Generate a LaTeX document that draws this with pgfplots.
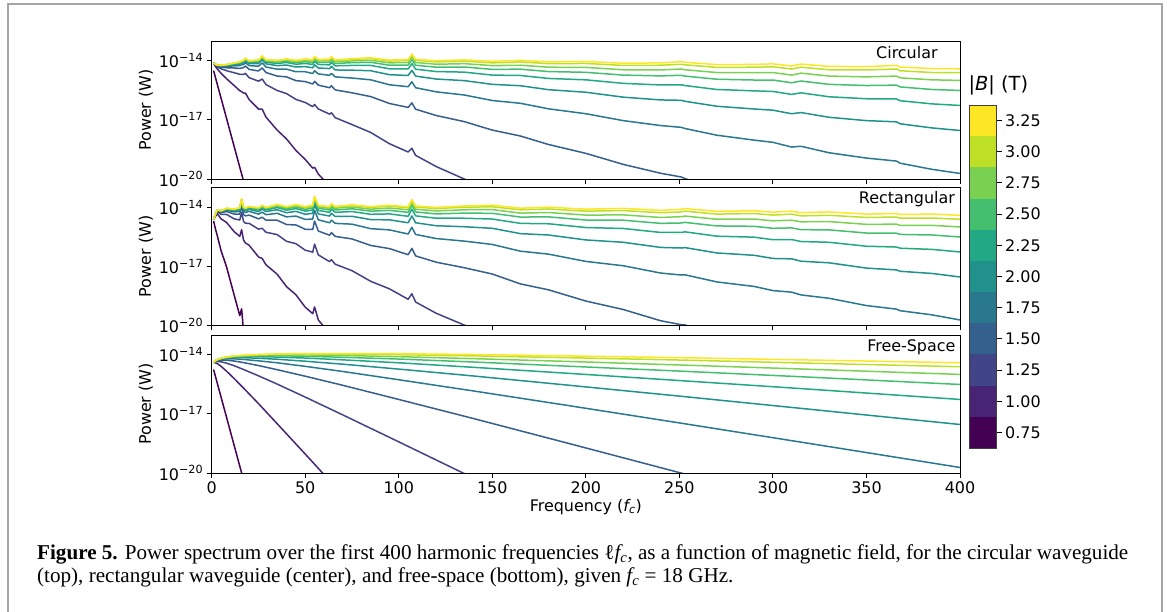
\documentclass[border=0pt]{standalone}
\usepackage{fontspec}
\setmainfont{DejaVu Sans}
\newfontfamily\capfont{Liberation Serif}
\usepackage{graphicx}
\usepackage{pgfplots}
\pgfplotsset{compat=1.18}
\usepackage{pgfplotstable}

% viridis, 11 levels (0.75 ... 3.25 T)
\definecolor{v0}{HTML}{440154}
\definecolor{v1}{HTML}{482475}
\definecolor{v2}{HTML}{414487}
\definecolor{v3}{HTML}{355F8D}
\definecolor{v4}{HTML}{2A788E}
\definecolor{v5}{HTML}{21918C}
\definecolor{v6}{HTML}{22A884}
\definecolor{v7}{HTML}{44BF70}
\definecolor{v8}{HTML}{7AD151}
\definecolor{v9}{HTML}{BDDF26}
\definecolor{v10}{HTML}{FDE725}

% log10 of power (W) per harmonic, one column per |B|
\pgfplotstableread{
x b075 b100 b125 b150 b175 b200 b225 b250 b275 b300 b325
1 -14.50 -14.12 -14.12 -14.12 -14.12 -14.12 -14.12 -14.12 -14.12 -14.12 -14.12
2 -14.85 -14.29 -14.23 -14.21 -14.20 -14.19 -14.19 -14.19 -14.18 -14.18 -14.18
3 -15.20 -14.42 -14.31 -14.26 -14.24 -14.23 -14.23 -14.22 -14.22 -14.22 -14.22
5 -15.90 -14.64 -14.41 -14.32 -14.28 -14.26 -14.24 -14.24 -14.23 -14.23 -14.23
8 -16.95 -14.92 -14.51 -14.36 -14.29 -14.25 -14.23 -14.21 -14.21 -14.20 -14.19
12 -18.35 -15.26 -14.61 -14.37 -14.26 -14.20 -14.17 -14.14 -14.13 -14.12 -14.11
15 -19.40 -15.52 -14.69 -14.39 -14.25 -14.17 -14.12 -14.10 -14.08 -14.07 -14.06
16 -19.75 -15.57 -14.69 -14.37 -14.21 -14.13 -14.08 -14.05 -14.04 -14.02 -14.01
17 -20.10 -15.64 -14.70 -14.35 -14.19 -14.10 -14.05 -14.02 -14.00 -13.98 -13.98
18 nan -15.64 -14.64 -14.27 -14.10 -14.00 -13.95 -13.92 -13.90 -13.88 -13.87
20 nan -15.97 -14.86 -14.44 -14.25 -14.15 -14.09 -14.05 -14.03 -14.01 -14.00
25 nan -16.45 -15.04 -14.52 -14.28 -14.15 -14.07 -14.02 -13.99 -13.97 -13.96
27 nan -16.46 -14.93 -14.37 -14.11 -13.96 -13.88 -13.83 -13.80 -13.77 -13.76
29 nan -16.86 -15.21 -14.60 -14.32 -14.16 -14.08 -14.02 -13.99 -13.96 -13.95
35 nan -17.52 -15.51 -14.78 -14.43 -14.25 -14.14 -14.07 -14.03 -14.00 -13.98
40 nan -17.97 -15.67 -14.82 -14.43 -14.22 -14.09 -14.02 -13.97 -13.93 -13.91
45 nan -18.55 -15.96 -15.01 -14.56 -14.32 -14.18 -14.10 -14.04 -14.00 -13.98
50 nan -19.01 -16.12 -15.06 -14.56 -14.30 -14.14 -14.05 -13.98 -13.94 -13.91
54 nan -19.45 -16.33 -15.18 -14.65 -14.36 -14.19 -14.09 -14.02 -13.97 -13.94
55 nan -19.41 -16.22 -15.05 -14.51 -14.21 -14.04 -13.94 -13.87 -13.82 -13.79
57 nan -19.75 -16.45 -15.24 -14.67 -14.37 -14.19 -14.08 -14.01 -13.96 -13.93
63 nan -20.36 -16.71 -15.37 -14.74 -14.40 -14.21 -14.09 -14.01 -13.95 -13.92
64 nan nan -16.64 -15.27 -14.64 -14.29 -14.09 -13.97 -13.89 -13.83 -13.80
66 nan nan -16.89 -15.48 -14.82 -14.47 -14.26 -14.14 -14.05 -13.99 -13.96
75 nan nan -17.24 -15.63 -14.88 -14.48 -14.24 -14.10 -14.01 -13.94 -13.90
85 nan nan -17.64 -15.82 -14.97 -14.51 -14.24 -14.08 -13.98 -13.89 -13.85
95 nan nan -18.21 -16.17 -15.22 -14.71 -14.41 -14.23 -14.11 -14.02 -13.97
105 nan nan -18.63 -16.37 -15.32 -14.75 -14.42 -14.22 -14.09 -13.99 -13.94
107 nan nan -18.44 -16.14 -15.07 -14.49 -14.15 -13.95 -13.81 -13.71 -13.66
109 nan nan -18.80 -16.46 -15.37 -14.78 -14.43 -14.23 -14.09 -13.98 -13.93
120 nan nan -19.37 -16.78 -15.58 -14.93 -14.55 -14.33 -14.18 -14.06 -14.00
135 nan nan -20.00 -17.09 -15.74 -15.01 -14.58 -14.32 -14.15 -14.02 -13.96
150 nan nan -20.78 -17.52 -16.02 -15.20 -14.73 -14.44 -14.25 -14.11 -14.03
165 nan nan nan -17.82 -16.16 -15.27 -14.75 -14.43 -14.23 -14.06 -13.98
180 nan nan nan -18.25 -16.44 -15.47 -14.90 -14.55 -14.33 -14.15 -14.06
200 nan nan nan -18.70 -16.69 -15.60 -14.97 -14.59 -14.34 -14.14 -14.04
220 nan nan nan -19.26 -17.04 -15.85 -15.15 -14.73 -14.46 -14.24 -14.13
240 nan nan nan -19.71 -17.29 -15.99 -15.23 -14.77 -14.47 -14.23 -14.11
251 nan nan nan -19.90 -17.38 -16.01 -15.22 -14.74 -14.42 -14.18 -14.05
253 nan nan nan -19.98 -17.44 -16.06 -15.26 -14.78 -14.46 -14.21 -14.08
270 nan nan nan -20.50 -17.78 -16.31 -15.46 -14.94 -14.60 -14.34 -14.20
290 nan nan nan nan -18.03 -16.45 -15.53 -14.98 -14.61 -14.33 -14.19
300 nan nan nan nan -18.14 -16.51 -15.56 -14.98 -14.60 -14.31 -14.16
310 nan nan nan nan -18.38 -16.69 -15.71 -15.12 -14.73 -14.42 -14.27
315 nan nan nan nan -18.34 -16.63 -15.63 -15.03 -14.63 -14.33 -14.17
330 nan nan nan nan -18.67 -16.87 -15.83 -15.20 -14.78 -14.46 -14.29
350 nan nan nan nan -18.94 -17.04 -15.93 -15.26 -14.82 -14.47 -14.30
366 nan nan nan nan -19.09 -17.10 -15.94 -15.24 -14.78 -14.42 -14.24
368 nan nan nan nan -19.20 -17.20 -16.03 -15.33 -14.87 -14.51 -14.32
385 nan nan nan nan -19.51 -17.41 -16.19 -15.46 -14.97 -14.60 -14.40
400 nan nan nan nan -19.72 -17.54 -16.27 -15.51 -15.00 -14.61 -14.41
}\circdata

\pgfplotstableread{
x b075 b100 b125 b150 b175 b200 b225 b250 b275 b300 b325
1 -14.70 -14.62 -14.62 -14.62 -14.62 -14.62 -14.62 -14.62 -14.62 -14.62 -14.62
2 -15.10 -14.46 -14.40 -14.38 -14.37 -14.36 -14.36 -14.36 -14.35 -14.35 -14.35
3 -15.45 -14.33 -14.22 -14.17 -14.15 -14.14 -14.14 -14.13 -14.13 -14.13 -14.13
5 -16.20 -14.59 -14.36 -14.27 -14.23 -14.21 -14.19 -14.19 -14.18 -14.18 -14.18
8 -17.05 -14.78 -14.37 -14.22 -14.15 -14.11 -14.09 -14.07 -14.07 -14.06 -14.05
12 -18.45 -15.24 -14.59 -14.35 -14.24 -14.18 -14.15 -14.12 -14.11 -14.10 -14.09
15 -19.50 -15.48 -14.65 -14.35 -14.21 -14.13 -14.08 -14.06 -14.04 -14.03 -14.02
16 -19.15 -15.14 -14.26 -13.94 -13.78 -13.70 -13.65 -13.62 -13.61 -13.59 -13.58
17 -20.30 -15.66 -14.72 -14.37 -14.21 -14.12 -14.07 -14.04 -14.02 -14.00 -14.00
18 nan -15.81 -14.81 -14.44 -14.27 -14.17 -14.12 -14.09 -14.07 -14.05 -14.04
20 nan -15.93 -14.82 -14.40 -14.21 -14.11 -14.05 -14.01 -13.99 -13.97 -13.96
25 nan -16.52 -15.11 -14.59 -14.35 -14.22 -14.14 -14.09 -14.06 -14.04 -14.03
27 nan -16.60 -15.07 -14.51 -14.25 -14.10 -14.02 -13.97 -13.94 -13.91 -13.90
29 nan -16.92 -15.27 -14.66 -14.38 -14.22 -14.14 -14.08 -14.05 -14.02 -14.01
35 nan -17.40 -15.39 -14.66 -14.31 -14.13 -14.02 -13.95 -13.91 -13.88 -13.86
40 nan -18.03 -15.73 -14.88 -14.49 -14.28 -14.15 -14.08 -14.03 -13.99 -13.97
45 nan -18.44 -15.85 -14.90 -14.45 -14.21 -14.07 -13.99 -13.93 -13.89 -13.87
50 nan -19.07 -16.18 -15.12 -14.62 -14.36 -14.20 -14.11 -14.04 -14.00 -13.97
54 nan -19.40 -16.28 -15.13 -14.60 -14.31 -14.14 -14.04 -13.97 -13.92 -13.89
55 nan -19.06 -15.87 -14.70 -14.16 -13.86 -13.69 -13.59 -13.52 -13.47 -13.44
57 nan -19.72 -16.42 -15.21 -14.64 -14.34 -14.16 -14.05 -13.98 -13.93 -13.90
63 nan -20.41 -16.76 -15.42 -14.79 -14.45 -14.26 -14.14 -14.06 -14.00 -13.97
64 nan nan -16.66 -15.29 -14.66 -14.31 -14.11 -13.99 -13.91 -13.85 -13.82
66 nan nan -16.89 -15.48 -14.82 -14.47 -14.26 -14.14 -14.05 -13.99 -13.96
75 nan nan -17.22 -15.61 -14.86 -14.46 -14.22 -14.08 -13.99 -13.92 -13.88
85 nan nan -17.76 -15.94 -15.09 -14.63 -14.36 -14.20 -14.10 -14.01 -13.97
95 nan nan -18.14 -16.10 -15.15 -14.64 -14.34 -14.16 -14.04 -13.95 -13.90
105 nan nan -18.67 -16.41 -15.36 -14.79 -14.46 -14.26 -14.13 -14.03 -13.98
107 nan nan -18.39 -16.09 -15.02 -14.44 -14.10 -13.90 -13.76 -13.66 -13.61
109 nan nan -18.81 -16.47 -15.38 -14.79 -14.44 -14.24 -14.10 -13.99 -13.94
120 nan nan -19.38 -16.79 -15.59 -14.94 -14.56 -14.34 -14.19 -14.07 -14.01
135 nan nan -19.98 -17.07 -15.72 -14.99 -14.56 -14.30 -14.13 -14.00 -13.94
150 nan nan -20.65 -17.39 -15.89 -15.07 -14.60 -14.31 -14.12 -13.98 -13.90
165 nan nan nan -17.89 -16.23 -15.34 -14.82 -14.50 -14.30 -14.13 -14.05
180 nan nan nan -18.19 -16.38 -15.41 -14.84 -14.49 -14.27 -14.09 -14.00
200 nan nan nan -18.76 -16.75 -15.66 -15.03 -14.65 -14.40 -14.20 -14.10
220 nan nan nan -19.19 -16.97 -15.78 -15.08 -14.66 -14.39 -14.17 -14.06
240 nan nan nan -19.76 -17.34 -16.04 -15.28 -14.82 -14.52 -14.28 -14.16
251 nan nan nan -19.96 -17.44 -16.07 -15.28 -14.80 -14.48 -14.24 -14.11
253 nan nan nan -19.97 -17.43 -16.05 -15.25 -14.77 -14.45 -14.20 -14.07
270 nan nan nan -20.51 -17.79 -16.32 -15.47 -14.95 -14.61 -14.35 -14.21
290 nan nan nan nan -18.02 -16.44 -15.52 -14.97 -14.60 -14.32 -14.18
300 nan nan nan nan -18.23 -16.60 -15.65 -15.07 -14.69 -14.40 -14.25
310 nan nan nan nan -18.31 -16.62 -15.64 -15.05 -14.66 -14.35 -14.20
315 nan nan nan nan -18.45 -16.74 -15.74 -15.14 -14.74 -14.44 -14.28
330 nan nan nan nan -18.62 -16.82 -15.78 -15.15 -14.73 -14.41 -14.24
350 nan nan nan nan -18.99 -17.09 -15.98 -15.31 -14.87 -14.52 -14.35
366 nan nan nan nan -19.17 -17.18 -16.02 -15.32 -14.86 -14.50 -14.32
368 nan nan nan nan -19.25 -17.25 -16.08 -15.38 -14.92 -14.56 -14.37
385 nan nan nan nan -19.46 -17.36 -16.14 -15.41 -14.92 -14.55 -14.35
400 nan nan nan nan -19.72 -17.54 -16.27 -15.51 -15.00 -14.61 -14.41
}\rectdata

\pgfplotstableread{
x b075 b100 b125 b150 b175 b200 b225 b250 b275 b300 b325
1 -14.75 -14.40 -14.40 -14.40 -14.40 -14.40 -14.40 -14.40 -14.40 -14.40 -14.40
2 -15.10 -14.41 -14.35 -14.33 -14.32 -14.31 -14.31 -14.31 -14.30 -14.30 -14.30
3 -15.45 -14.45 -14.34 -14.29 -14.27 -14.26 -14.25 -14.25 -14.25 -14.25 -14.25
5 -16.15 -14.59 -14.36 -14.27 -14.23 -14.21 -14.19 -14.19 -14.18 -14.18 -14.18
8 -17.20 -14.84 -14.43 -14.28 -14.21 -14.17 -14.15 -14.13 -14.12 -14.12 -14.11
12 -18.60 -15.21 -14.56 -14.32 -14.21 -14.15 -14.12 -14.09 -14.08 -14.07 -14.06
17 -20.35 -15.69 -14.75 -14.40 -14.24 -14.15 -14.10 -14.07 -14.05 -14.03 -14.03
25 nan -16.48 -15.07 -14.55 -14.31 -14.18 -14.10 -14.05 -14.02 -14.00 -13.99
35 nan -17.50 -15.49 -14.76 -14.41 -14.23 -14.12 -14.05 -14.01 -13.98 -13.96
50 nan -19.04 -16.15 -15.09 -14.59 -14.33 -14.17 -14.08 -14.01 -13.97 -13.94
70 nan -21.11 -17.05 -15.55 -14.85 -14.48 -14.26 -14.13 -14.04 -13.97 -13.94
100 nan nan -18.42 -16.27 -15.27 -14.73 -14.41 -14.22 -14.10 -14.00 -13.95
140 nan nan -20.26 -17.24 -15.84 -15.08 -14.64 -14.37 -14.20 -14.06 -13.99
190 nan nan nan -18.48 -16.57 -15.54 -14.94 -14.58 -14.34 -14.15 -14.06
250 nan nan nan -19.98 -17.46 -16.10 -15.31 -14.83 -14.52 -14.27 -14.15
320 nan nan nan -21.73 -18.51 -16.77 -15.75 -15.14 -14.74 -14.43 -14.27
400 nan nan nan nan -19.72 -17.54 -16.27 -15.51 -15.00 -14.61 -14.41
}\freedata

\pgfplotsset{
  panel/.style={
    anchor=south west, scale only axis, width=748.3bp, height=138bp,
    xmin=0, xmax=400, ymin=-20, ymax=-13,
    xtick={0,50,...,400}, ytick={-20,-17,-14},
    yticklabels={10\textsuperscript{−20},10\textsuperscript{−17},10\textsuperscript{−14}},
    tick align=outside, xtick pos=left, ytick pos=left,
    major tick length=5bp,
    tick style={black, line width=0.9bp},
    axis line style={line width=0.9bp},
    tick label style={font=\fontsize{16}{19}\selectfont},
    label style={font=\fontsize{16}{19}\selectfont},
    ylabel={Power (W)},
    ylabel style={at={(axis description cs:-0.088,0.5)}, anchor=center},
    axis on top,
    every axis plot/.append style={line width=1.5bp, line join=round},
  },
}
\tikzset{tag/.style={font=\fontsize{16}{19}\selectfont, anchor=center}}

\newcommand{\drawlines}[1]{%
  \addplot[v0] table[x=x,y=b075]{#1};
  \addplot[v1] table[x=x,y=b100]{#1};
  \addplot[v2] table[x=x,y=b125]{#1};
  \addplot[v3] table[x=x,y=b150]{#1};
  \addplot[v4] table[x=x,y=b175]{#1};
  \addplot[v5] table[x=x,y=b200]{#1};
  \addplot[v6] table[x=x,y=b225]{#1};
  \addplot[v7] table[x=x,y=b250]{#1};
  \addplot[v8] table[x=x,y=b275]{#1};
  \addplot[v9] table[x=x,y=b300]{#1};
  \addplot[v10] table[x=x,y=b325]{#1};
}

\begin{document}
\begin{tikzpicture}[x=1bp,y=1bp]
\path[use as bounding box] (0,0) rectangle (1167,612);
\draw[black!35, line width=1.2bp] (8,0) -- (8,608) -- (1162,608) -- (1162,0);

% circular
\begin{axis}[panel, at={(211.7bp,433bp)}, xticklabels={}]
\drawlines{\circdata}
\node[tag] at (rel axis cs:0.929,0.913) {Circular};
\end{axis}

% rectangular
\begin{axis}[panel, at={(211.7bp,286.5bp)}, xticklabels={}]
\drawlines{\rectdata}
\node[tag] at (rel axis cs:0.929,0.913) {Rectangular};
\end{axis}

% free space
\begin{axis}[panel, at={(211.7bp,139bp)},
  xticklabels={0,50,100,150,200,250,300,350,400},
  xlabel={Frequency ({\itshape f}\textsubscript{\itshape c})},
  xlabel style={at={(axis description cs:0.5,-0.245)}, anchor=center}]
\drawlines{\freedata}
\node[tag] at (rel axis cs:0.935,0.913) {Free-Space};
\end{axis}

% colour bar
\begin{axis}[anchor=south west, at={(969.3bp,164bp)}, scale only axis,
  width=27.4bp, height=343bp, xmin=0, xmax=1, ymin=0.625, ymax=3.375,
  xtick=\empty, ytick={0.75,1,1.25,1.5,1.75,2,2.25,2.5,2.75,3,3.25},
  yticklabels={0.75,1.00,1.25,1.50,1.75,2.00,2.25,2.50,2.75,3.00,3.25},
  ytick pos=right, yticklabel pos=right, tick align=outside,
  major tick length=5bp, tick style={black, line width=0.9bp},
  axis line style={line width=0.8bp, black!75},
  tick label style={font=\fontsize{16}{19}\selectfont}, axis on top, clip=false]
\addplot[fill=v0, draw=none] coordinates {(0,0.625) (1,0.625) (1,0.875) (0,0.875)} -- cycle;
\addplot[fill=v1, draw=none] coordinates {(0,0.875) (1,0.875) (1,1.125) (0,1.125)} -- cycle;
\addplot[fill=v2, draw=none] coordinates {(0,1.125) (1,1.125) (1,1.375) (0,1.375)} -- cycle;
\addplot[fill=v3, draw=none] coordinates {(0,1.375) (1,1.375) (1,1.625) (0,1.625)} -- cycle;
\addplot[fill=v4, draw=none] coordinates {(0,1.625) (1,1.625) (1,1.875) (0,1.875)} -- cycle;
\addplot[fill=v5, draw=none] coordinates {(0,1.875) (1,1.875) (1,2.125) (0,2.125)} -- cycle;
\addplot[fill=v6, draw=none] coordinates {(0,2.125) (1,2.125) (1,2.375) (0,2.375)} -- cycle;
\addplot[fill=v7, draw=none] coordinates {(0,2.375) (1,2.375) (1,2.625) (0,2.625)} -- cycle;
\addplot[fill=v8, draw=none] coordinates {(0,2.625) (1,2.625) (1,2.875) (0,2.875)} -- cycle;
\addplot[fill=v9, draw=none] coordinates {(0,2.875) (1,2.875) (1,3.125) (0,3.125)} -- cycle;
\addplot[fill=v10, draw=none] coordinates {(0,3.125) (1,3.125) (1,3.375) (0,3.375)} -- cycle;
\node[anchor=south west, inner sep=0pt, font=\fontsize{19.5}{22}\selectfont]
  at (rel axis cs:0,1) [xshift=-1bp, yshift=10bp] {|{\itshape B}| (T)};
\end{axis}

% caption
\node[anchor=north west, inner sep=0pt] at (37,69) {\resizebox{1091bp}{!}{%
  \capfont\fontsize{18}{19.6}\selectfont
  \begin{tabular}{@{}l@{}}
  \textbf{Figure 5.} Power spectrum over the first 400 harmonic frequencies ℓ{\itshape f}\textsubscript{\itshape c}, as a function of magnetic field, for the circular waveguide\\
  (top), rectangular waveguide (center), and free-space (bottom), given {\itshape f}\textsubscript{\itshape c} = 18 GHz.
  \end{tabular}}};
\end{tikzpicture}
\end{document}
